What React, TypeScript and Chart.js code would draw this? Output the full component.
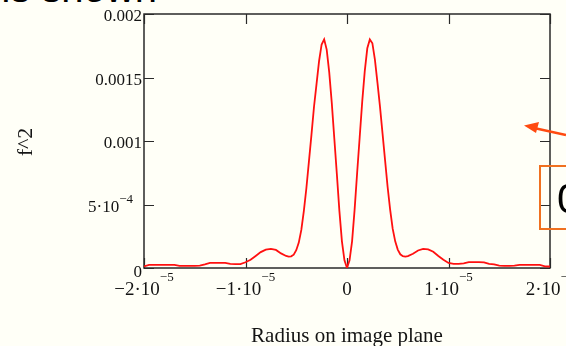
import React, { useEffect, useRef } from 'react';
import { Chart, registerables } from 'chart.js';

Chart.register(...registerables);

// Radius on image plane (m)
const radius = [
  -20e-6, -19.5e-6, -19e-6, -18.5e-6, -18e-6, -17.5e-6, -17e-6, -16.5e-6, -16e-6, -15.5e-6,
  -15e-6, -14.5e-6, -14e-6, -13.5e-6, -13e-6, -12.5e-6, -12e-6, -11.5e-6, -11e-6, -10.5e-6,
  -10e-6, -9.5e-6, -9e-6, -8.5e-6, -8e-6, -7.5e-6, -7e-6, -6.5e-6,
  -6e-6, -5.75e-6, -5.5e-6, -5.25e-6, -5e-6, -4.75e-6, -4.5e-6, -4.25e-6, -4e-6, -3.75e-6,
  -3.5e-6, -3.25e-6, -3e-6, -2.75e-6, -2.5e-6, -2.25e-6, -2e-6, -1.75e-6, -1.5e-6, -1.25e-6,
  -1e-6, -0.75e-6, -0.5e-6, -0.25e-6, 0, 0.25e-6, 0.5e-6, 0.75e-6, 1e-6, 1.25e-6,
  1.5e-6, 1.75e-6, 2e-6, 2.25e-6, 2.5e-6, 2.75e-6, 3e-6, 3.25e-6, 3.5e-6, 3.75e-6,
  4e-6, 4.25e-6, 4.5e-6, 4.75e-6, 5e-6, 5.25e-6, 5.5e-6, 5.75e-6, 6e-6,
  6.5e-6, 7e-6, 7.5e-6, 8e-6, 8.5e-6, 9e-6, 9.5e-6, 10e-6, 10.5e-6, 11e-6,
  11.5e-6, 12e-6, 12.5e-6, 13e-6, 13.5e-6, 14e-6, 14.5e-6, 15e-6, 15.5e-6, 16e-6,
  16.5e-6, 17e-6, 17.5e-6, 18e-6, 18.5e-6, 19e-6, 19.5e-6, 20e-6,
];

// f^2
const intensity = [
  1.2e-5, 2.4e-5, 2.5e-5, 2.5e-5, 2.5e-5, 2.5e-5, 2.4e-5, 1.7e-5, 1.6e-5, 1.7e-5,
  1.7e-5, 1.8e-5, 2.8e-5, 4.0e-5, 4.1e-5, 4.1e-5, 4.0e-5, 3.2e-5, 3.0e-5, 3.1e-5,
  4.5e-5, 6.5e-5, 9.5e-5, 1.25e-4, 1.45e-4, 1.5e-4, 1.42e-4, 1.15e-4,
  9.5e-5, 9.0e-5, 9.2e-5, 1.05e-4, 1.4e-4, 2.0e-4, 3.0e-4, 4.5e-4, 6.3e-4, 8.4e-4,
  1.05e-3, 1.27e-3, 1.45e-3, 1.63e-3, 1.76e-3, 1.80e-3, 1.72e-3, 1.54e-3, 1.30e-3, 1.02e-3,
  7.4e-4, 4.5e-4, 2.1e-4, 6e-5, 0, 6e-5, 2.1e-4, 4.6e-4, 7.5e-4, 1.03e-3,
  1.31e-3, 1.55e-3, 1.73e-3, 1.80e-3, 1.77e-3, 1.64e-3, 1.46e-3, 1.27e-3, 1.06e-3, 8.5e-4,
  6.4e-4, 4.6e-4, 3.1e-4, 2.1e-4, 1.45e-4, 1.08e-4, 9.3e-5, 9.0e-5, 9.4e-5,
  1.12e-4, 1.38e-4, 1.5e-4, 1.47e-4, 1.28e-4, 9.5e-5, 6.5e-5, 4.0e-5, 3.3e-5, 3.3e-5,
  3.6e-5, 4.6e-5, 4.6e-5, 4.6e-5, 4.5e-5, 3.2e-5, 2.8e-5, 1.8e-5, 1.7e-5, 1.7e-5,
  1.8e-5, 2.5e-5, 2.5e-5, 2.5e-5, 2.5e-5, 2.4e-5, 1.3e-5, 1.2e-5,
];

const xTickValues = [-2e-5, -1e-5, 0, 1e-5, 2e-5];
const xTickMain = ['\u22122\u00b710', '\u22121\u00b710', '0', '1\u00b710', '2\u00b710'];
const xTickExp = ['\u22125', '\u22125', '', '\u22125', '\u22125'];

const yTickValues = [0, 5e-4, 0.001, 0.0015, 0.002];
const yTickMain = ['0', '5\u00b710', '0.001', '0.0015', '0.002'];
const yTickExp = ['', '\u22124', '', '', ''];

const xTitle = 'Radius on image plane';
const yTitle = 'f^2';

const SERIF = '"Liberation Serif", "Times New Roman", serif';

function drawSci(
  ctx: CanvasRenderingContext2D,
  main: string,
  exp: string,
  x: number,
  y: number,
  align: 'center' | 'right',
  mainSize: number,
  supSize: number,
  rise: number
) {
  const mainFont = `${mainSize}px ${SERIF}`;
  const supFont = `${supSize}px ${SERIF}`;
  ctx.font = mainFont;
  const mw = ctx.measureText(main).width;
  ctx.font = supFont;
  const sw = exp ? ctx.measureText(exp).width : 0;
  const total = mw + sw;
  const left = align === 'center' ? x - total / 2 : x - total;
  ctx.textAlign = 'left';
  ctx.textBaseline = 'middle';
  ctx.font = mainFont;
  ctx.fillText(main, left, y);
  if (exp) {
    ctx.font = supFont;
    ctx.fillText(exp, left + mw, y - rise);
  }
}

const framePlugin = {
  id: 'mathcadFrame',
  beforeDatasetsDraw(chart: any) {
    const { ctx, chartArea: a, scales } = chart;
    const xs = scales.x;
    const ys = scales.y;
    ctx.save();
    ctx.strokeStyle = '#2a2a2a';
    ctx.lineWidth = 1.5;
    ctx.strokeRect(a.left, a.top, a.right - a.left, a.bottom - a.top);
    ctx.lineWidth = 1.2;
    const tl = 10;
    xTickValues.forEach((v) => {
      const px = Math.round(xs.getPixelForValue(v)) + 0.5;
      ctx.beginPath();
      ctx.moveTo(px, a.bottom);
      ctx.lineTo(px, a.bottom - tl);
      ctx.moveTo(px, a.top);
      ctx.lineTo(px, a.top + tl);
      ctx.stroke();
    });
    yTickValues.forEach((v) => {
      const py = Math.round(ys.getPixelForValue(v)) + 0.5;
      ctx.beginPath();
      ctx.moveTo(a.left, py);
      ctx.lineTo(a.left + tl, py);
      ctx.moveTo(a.right, py);
      ctx.lineTo(a.right - tl, py);
      ctx.stroke();
    });
    ctx.restore();
  },
  afterDraw(chart: any) {
    const { ctx, chartArea: a, scales } = chart;
    const xs = scales.x;
    const ys = scales.y;
    ctx.save();
    ctx.fillStyle = '#141414';
    xTickValues.forEach((v, i) => {
      const px = xs.getPixelForValue(v);
      drawSci(ctx, xTickMain[i], xTickExp[i], px, a.bottom + 22, 'center', 19, 13, 12);
    });
    yTickValues.forEach((v, i) => {
      const py = ys.getPixelForValue(v);
      const right = yTickExp[i] ? a.left - 11 : a.left - 2;
      const dy = v === 0 ? 5 : 3;
      drawSci(ctx, yTickMain[i], yTickExp[i], right, py + dy, 'right', 17, 13, 8);
    });
    ctx.font = `21px ${SERIF}`;
    ctx.textAlign = 'center';
    ctx.textBaseline = 'alphabetic';
    ctx.fillText(xTitle, (a.left + a.right) / 2, 342);
    ctx.save();
    ctx.translate(32, 142);
    ctx.rotate(-Math.PI / 2);
    ctx.font = `22px ${SERIF}`;
    ctx.fillText(yTitle, 0, 0);
    ctx.restore();
    ctx.restore();
  },
};

export default function App() {
  const canvasRef = useRef<HTMLCanvasElement | null>(null);

  useEffect(() => {
    document.body.style.margin = '0';
    const canvas = canvasRef.current;
    if (!canvas) return;
    const points = radius.map((r, i) => ({ x: r, y: intensity[i] }));
    const chart = new Chart(canvas, {
      type: 'scatter',
      data: {
        datasets: [
          {
            label: yTitle,
            data: points,
            showLine: true,
            borderColor: '#ff1010',
            backgroundColor: '#ff1010',
            borderWidth: 1.8,
            pointRadius: 0,
            tension: 0,
          },
        ],
      },
      options: {
        responsive: false,
        animation: false,
        devicePixelRatio: 1,
        layout: { padding: { left: 144, right: 16, top: 14, bottom: 78 } },
        plugins: { legend: { display: false }, tooltip: { enabled: false } },
        scales: {
          x: { type: 'linear', min: -2e-5, max: 2e-5, display: false },
          y: { type: 'linear', min: 0, max: 0.002, display: false },
        },
      },
      plugins: [framePlugin],
    });
    return () => chart.destroy();
  }, []);

  return (
    <div
      style={{
        position: 'fixed',
        left: 0,
        top: 0,
        width: 566,
        height: 346,
        background: 'rgb(255,255,247)',
        overflow: 'hidden',
      }}
    >
      <div
        style={{
          position: 'absolute',
          left: -12,
          top: -32,
          fontFamily: '"Liberation Sans", Arial, sans-serif',
          fontSize: 40,
          lineHeight: '40px',
          color: '#000',
          whiteSpace: 'nowrap',
        }}
      >
        ns shown
      </div>
      <canvas ref={canvasRef} width={566} height={346} style={{ position: 'absolute', left: 0, top: 0 }} />
      <svg width={566} height={346} style={{ position: 'absolute', left: 0, top: 0 }}>
        <line x1={566} y1={135} x2={534} y2={128} stroke="#ff4a10" strokeWidth={2.5} />
        <polygon points="524,125.5 539,122 536,133" fill="#ff4a10" />
        <rect x={540} y={166} width={40} height={63} fill="none" stroke="#f07020" strokeWidth={2} />
      </svg>
      <div
        style={{
          position: 'absolute',
          left: 557,
          top: 178,
          fontFamily: '"Liberation Sans", Arial, sans-serif',
          fontSize: 42,
          lineHeight: '42px',
          color: '#000',
        }}
      >
        0
      </div>
    </div>
  );
}
